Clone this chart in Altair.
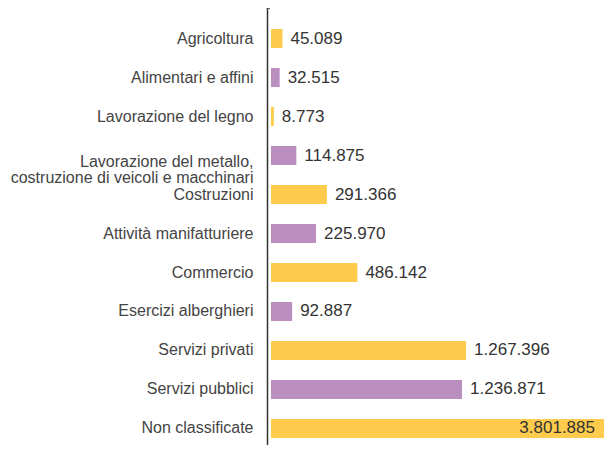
import altair as alt
import pandas as pd

categories = [
    "Agricoltura",
    "Alimentari e affini",
    "Lavorazione del legno",
    "Lavorazione del metallo, costruzione di veicoli e macchinari",
    "Costruzioni",
    "Attività manifatturiere",
    "Commercio",
    "Esercizi alberghieri",
    "Servizi privati",
    "Servizi pubblici",
    "Non classificate",
]
values = [45089, 32515, 8773, 114875, 291366, 225970, 486142, 92887, 1267396, 1236871, 3801885]

df = pd.DataFrame({"categoria": categories, "valore": values})

YELLOW = "#FECB4C"
PURPLE = "#BB8EC0"
TEXT = "#333333"
LABEL = "#444444"
FONT = "Liberation Sans"
DMAX = 2378000
MULTI = "Lavorazione del metallo, costruzione di veicoli e macchinari"

base = alt.Chart(df).transform_window(
    idx="row_number()"
).transform_calculate(
    parity="datum.idx % 2 == 1 ? 'a' : 'b'",
    etichetta="replace(format(datum.valore, ','), regexp(',', 'g'), '.')",
)

y = alt.Y(
    "categoria:N",
    sort=categories,
    title=None,
    scale=alt.Scale(paddingInner=0.5128, paddingOuter=0.359, align=0.75),
    axis=alt.Axis(
        title=None,
        domain=True,
        domainColor=TEXT,
        domainWidth=1.5,
        ticks=False,
        tickSize=0,
        offset=4,
        labelPadding=14,
        labelFont=FONT,
        labelFontSize=16,
        labelColor=LABEL,
        labelLimit=300,
        labelLineHeight=16,
        labelExpr=(
            f"datum.label == '{MULTI}' ? "
            "['Lavorazione del metallo,', 'costruzione di veicoli e macchinari'] : datum.label"
        ),
        labelOffset={"condition": {"test": f"datum.value == '{MULTI}'", "value": 6}, "value": 0},
    ),
)

x = alt.X(
    "valore:Q",
    axis=None,
    scale=alt.Scale(type="pow", exponent=0.85, domain=[0, DMAX], clamp=True, nice=False, zero=True),
)

bars = base.mark_bar().encode(
    x=x,
    y=y,
    color=alt.Color("parity:N", scale=alt.Scale(domain=["a", "b"], range=[YELLOW, PURPLE]), legend=None),
)

txt_out = base.transform_filter(f"datum.valore <= {DMAX}").mark_text(
    align="left", baseline="middle", dx=8, font=FONT, fontSize=17, color=TEXT
).encode(x=x, y=y, text="etichetta:N")

txt_in = base.transform_filter(f"datum.valore > {DMAX}").mark_text(
    align="right", baseline="middle", dx=-9, font=FONT, fontSize=17, color=TEXT
).encode(x=x, y=y, text="etichetta:N")

cap = alt.Chart(pd.DataFrame({"k": [0]})).mark_rule(color=TEXT, strokeWidth=1.5).encode(
    x=alt.value(-4.5), x2=alt.value(-1), y=alt.value(0)
)

chart = alt.layer(bars, txt_out, txt_in, cap).properties(
    width=333,
    height=437,
    autosize=alt.AutoSizeParams(type="none"),
    padding={"left": 263, "top": 0, "right": 0, "bottom": 0},
).configure_view(stroke=None)

chart.save("out.html", embed_options={"renderer": "svg", "actions": False})
